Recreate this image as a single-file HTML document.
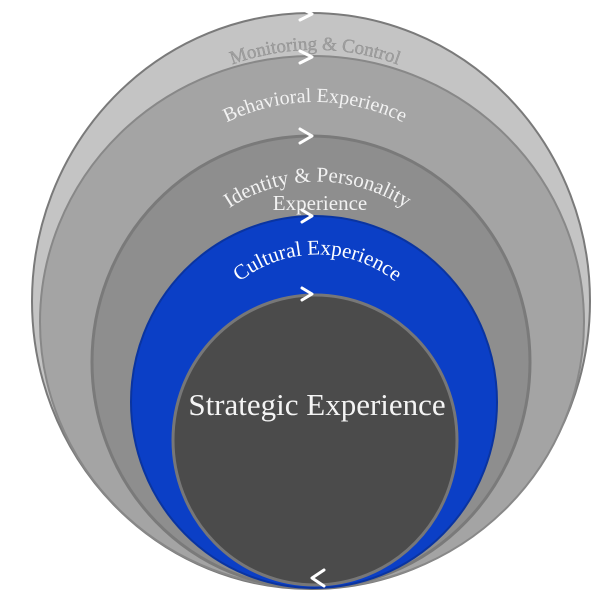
<!DOCTYPE html>
<html><head><style>body{margin:0;background:#fff}svg{display:block}</style></head><body>
<svg width="600" height="600" viewBox="0 0 600 600" xmlns="http://www.w3.org/2000/svg">
<defs>
<path id="p1" d="M190,85 A240,240 0 0 1 440,85"/>
<path id="p2" d="M185,150 A200,200 0 0 1 445,150"/>
<path id="p3" d="M190,245 A160,160 0 0 1 445,245"/>
<path id="p4" d="M205,325 A125,125 0 0 1 430,325"/>
</defs>
<ellipse cx="311" cy="301" rx="279" ry="288" fill="#c4c4c4" stroke="#7a7a7a" stroke-width="2"/>
<ellipse cx="312" cy="322" rx="272" ry="266" fill="#a4a4a4" stroke="#888" stroke-width="2"/>
<ellipse cx="311" cy="362" rx="219" ry="226" fill="#8e8e8e" stroke="#7a7a7a" stroke-width="3"/>
<ellipse cx="314" cy="402" rx="183" ry="186" fill="#0b3fc6" stroke="#0a34a0" stroke-width="2"/>
<ellipse cx="315" cy="440" rx="142" ry="145" fill="#4b4b4b" stroke="#777" stroke-width="3"/>
<g font-family="Liberation Serif, serif">
<text font-size="19" fill="#a0a0a0" stroke="#888" stroke-width="0.3"><textPath href="#p1" startOffset="50%" text-anchor="middle">Monitoring &amp; Control</textPath></text>
<text font-size="20" fill="#f2f2f2"><textPath href="#p2" startOffset="50%" text-anchor="middle">Behavioral Experience</textPath></text>
<text font-size="21" fill="#f2f2f2"><textPath href="#p3" startOffset="50%" text-anchor="middle">Identity &amp; Personality</textPath></text>
<text x="320" y="210" font-size="21" fill="#f2f2f2" text-anchor="middle">Experience</text>
<text font-size="21" fill="#fff"><textPath href="#p4" startOffset="50%" text-anchor="middle">Cultural Experience</textPath></text>
<text x="317" y="415" font-size="31" fill="#f4f4f4" text-anchor="middle">Strategic Experience</text>
</g>
<g fill="none" stroke="#fff" stroke-width="3" stroke-linecap="round" stroke-linejoin="round">
<path d="M300,8 L312,14 L300,20"/>
<path d="M300,51 L312,57 L300,63"/>
<path d="M300,129 L312,136 L300,143"/>
<path d="M302,210 L312,216 L302,222"/>
<path d="M302,288 L312,294 L302,300"/>
<path d="M324,570 L312,578 L324,586"/>
</g>
</svg>
</body></html>
